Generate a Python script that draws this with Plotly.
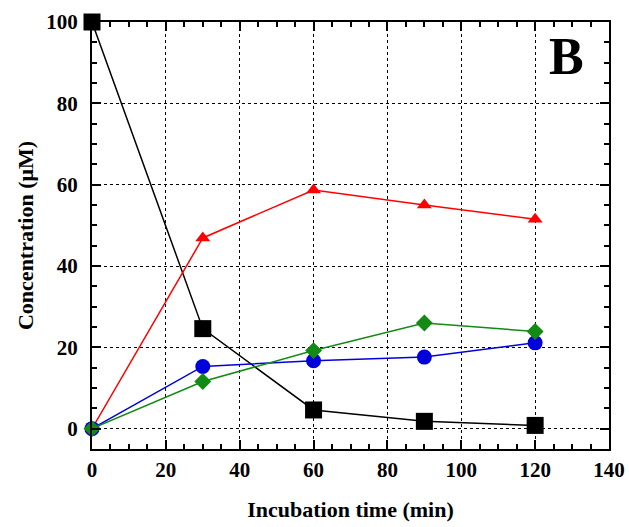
import plotly.graph_objects as go

time = [0, 30, 60, 90, 120]
black_sq = [100, 24.6, 4.6, 1.8, 0.8]
red_tri = [0, 46.9, 58.7, 55.0, 51.5]
blue_circ = [0, 15.3, 16.7, 17.6, 21.1]
green_dia = [0, 11.6, 19.2, 26.0, 23.9]

FONT = "Liberation Serif"
fig = go.Figure()
series = [
    (black_sq, "black", "square", 17),
    (red_tri, "#ff0000", "triangle-up", 13),
    (blue_circ, "#0000dd", "circle", 15),
    (green_dia, "#138a13", "diamond", 13),
]
for ys, col, sym, sz in series:
    fig.add_trace(go.Scatter(x=time, y=ys, mode="lines+markers",
                             line=dict(color=col, width=1.5),
                             marker=dict(symbol=sym, size=sz, color=col),
                             showlegend=False, cliponaxis=False))

axis_common = dict(showline=True, linecolor="black", linewidth=2, mirror="ticks",
                   ticks="inside", ticklen=9, tickwidth=2, tickcolor="black",
                   showgrid=True, gridcolor="black", gridwidth=1, griddash="dot",
                   zeroline=False, automargin=False,
                   minor=dict(ticks="inside", ticklen=5, tickwidth=1.5, tickcolor="black", dtick=5, showgrid=False),
                   tickfont=dict(family=FONT, size=21, color="black", weight="bold"))

fig.update_xaxes(range=[0, 140], tick0=0, dtick=20, ticklabelstandoff=1,
                 title=dict(text="<b>Incubation time (min)</b>", font=dict(family=FONT, size=22, color="black"), standoff=20),
                 **axis_common)
fig.update_yaxes(range=[-5, 100], tick0=0, dtick=20, ticklabelstandoff=8,
                 title=dict(text="<b>Concentration (μM)</b>", font=dict(family=FONT, size=22, color="black"), standoff=7),
                 **axis_common)

fig.add_annotation(text="<b>B</b>", x=(566 - 92) / (629 - 92 - 20), y=1 - (57 - 22) / (527 - 22 - 78),
                   xref="paper", yref="paper", xanchor="center", yanchor="middle",
                   showarrow=False, font=dict(family=FONT, size=52, color="black"))

fig.update_layout(width=629, height=527, margin=dict(l=92, r=20, t=22, b=78),
                  plot_bgcolor="white", paper_bgcolor="white")
fig.write_html("out.html")
